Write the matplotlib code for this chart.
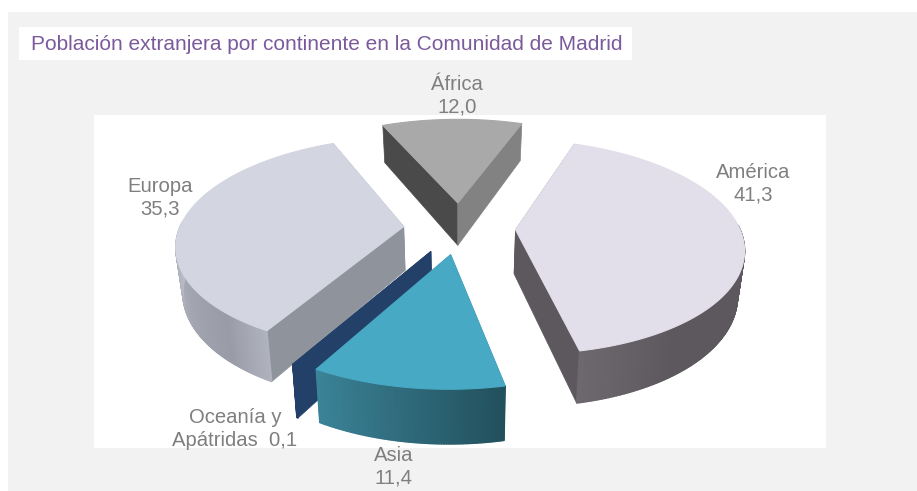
import numpy as np
import matplotlib
matplotlib.use("Agg")
import matplotlib.pyplot as plt
from matplotlib.patches import Polygon, Rectangle
from matplotlib.collections import PolyCollection
from matplotlib.colors import to_rgb

plt.rcParams['font.family'] = ['Liberation Sans', 'DejaVu Sans']

title = "Población extranjera por continente en la Comunidad de Madrid"
categories = ["África", "América", "Asia", "Oceanía y\nApátridas  0,1", "Europa"]
values = [12.0, 41.3, 11.4, 0.1, 35.3]
value_labels = ["12,0", "41,3", "11,4", "", "35,3"]

top_colors = ["#a9a9a9", "#e2deea", "#47a9c4", "#234069", "#d3d6e0"]
wall_colors = [("#4a4a4a", "#828282"), ("#5c585d", "#5c585d"), ("#2b6374", "#2b6374"),
               ("#234069", "#234069"), ("#8f939c", "#8f939c")]
rim_stops = [
    [(0, "#6f6f6f"), (1, "#6f6f6f")],
    [(0, "#5c585d"), (0.84, "#5c585d"), (1, "#6c686e")],
    [(0, "#22505c"), (1, "#3b8398")],
    [(0, "#234069"), (1, "#234069")],
    [(0, "#b0b3bd"), (0.10, "#999ca7"), (0.25, "#a3a6b1"), (0.5, "#c0c3cd"), (1, "#c0c3cd")],
]
draw_order = [0, 4, 1, 3, 2]
label_pos = [(457, 96), (753, 184), (394, 467), (235, 429), (160, 198)]

# projection of the pie plane
CX, CY = 459.5, 228
A, B = 224, 104
PERSP = 0.157
DEPTH = 44
BOTTOM_SCALE = 0.975
EXPLODE = 0.25
START = -23.4


def project(X, Y, bottom=False):
    f = 1 / (1 - PERSP * Y)
    x = A * X * f
    y = B * Y * f
    if bottom:
        return CX + x * BOTTOM_SCALE, CY + y + DEPTH * f
    return CX + x, CY + y


def mix(stops, t):
    ts = [s[0] for s in stops]
    cs = np.array([to_rgb(s[1]) for s in stops])
    return tuple(np.interp(t, ts, cs[:, i]) for i in range(3))


fig = plt.figure(figsize=(9.17, 4.91), dpi=100, facecolor="white")
ax = fig.add_axes([0, 0, 1, 1])
ax.set_xlim(0, 917)
ax.set_ylim(491, 0)
ax.axis("off")

ax.add_patch(Rectangle((8, 12), 909, 479, fc="#f2f2f2", ec="none", zorder=0))
ax.add_patch(Rectangle((94, 115), 732, 333, fc="white", ec="none", zorder=1))
ax.add_patch(Rectangle((19, 27), 613, 33, fc="white", ec="none", zorder=1))
ax.text(31, 44, title, color="#7b5a9b", fontsize=15, va="center", ha="left", zorder=5)

shares = np.array(values) / np.sum(values) * 360
edges = START + np.concatenate([[0], np.cumsum(shares)])

z = 2
for i in draw_order:
    t0, t1 = np.radians(edges[i]), np.radians(edges[i + 1])
    mid = (t0 + t1) / 2
    ox, oy = EXPLODE * np.sin(mid), -EXPLODE * np.cos(mid)
    th = np.linspace(t0, t1, max(8, int(np.degrees(t1 - t0) * 2)))
    X, Y = ox + np.sin(th), oy - np.cos(th)

    ax_t, ay_t = project(ox, oy)
    ax_b, ay_b = project(ox, oy, True)
    xt, yt = project(X, Y)
    xb, yb = project(X, Y, True)

    # radial walls
    for k, col in zip((0, -1), wall_colors[i]):
        ax.add_patch(Polygon([(ax_t, ay_t), (xt[k], yt[k]), (xb[k], yb[k]), (ax_b, ay_b)],
                             closed=True, fc=col, ec=col, lw=0.5, zorder=z))
    z += 1
    # rim wall with a horizontal shading: only the part facing the viewer
    quads, cols = [], []
    for n in range(len(th) - 1):
        if np.cos(th[n]) < 0.05 and np.cos(th[n + 1]) < 0.05:
            quads.append([(xt[n], yt[n]), (xt[n + 1], yt[n + 1]), (xb[n + 1], yb[n + 1]), (xb[n], yb[n])])
            cols.append(mix(rim_stops[i], n / (len(th) - 2)))
    if quads:
        ax.add_collection(PolyCollection(quads, facecolors=cols, edgecolors=cols, linewidths=1.0, zorder=z))
    z += 1
    # top face
    ax.add_patch(Polygon(np.column_stack([np.r_[ax_t, xt], np.r_[ay_t, yt]]), closed=True,
                         fc=top_colors[i], ec=top_colors[i], lw=0.8, zorder=z))
    z += 1

for cat, val, (lx, ly) in zip(categories, value_labels, label_pos):
    txt = f"{cat}\n{val}" if val else cat
    ax.text(lx, ly, txt, color="#7f7f7f", fontsize=14.6, ha="center", va="center",
            linespacing=1.25, zorder=z)

fig.savefig("out.png", dpi=100, facecolor="white")
